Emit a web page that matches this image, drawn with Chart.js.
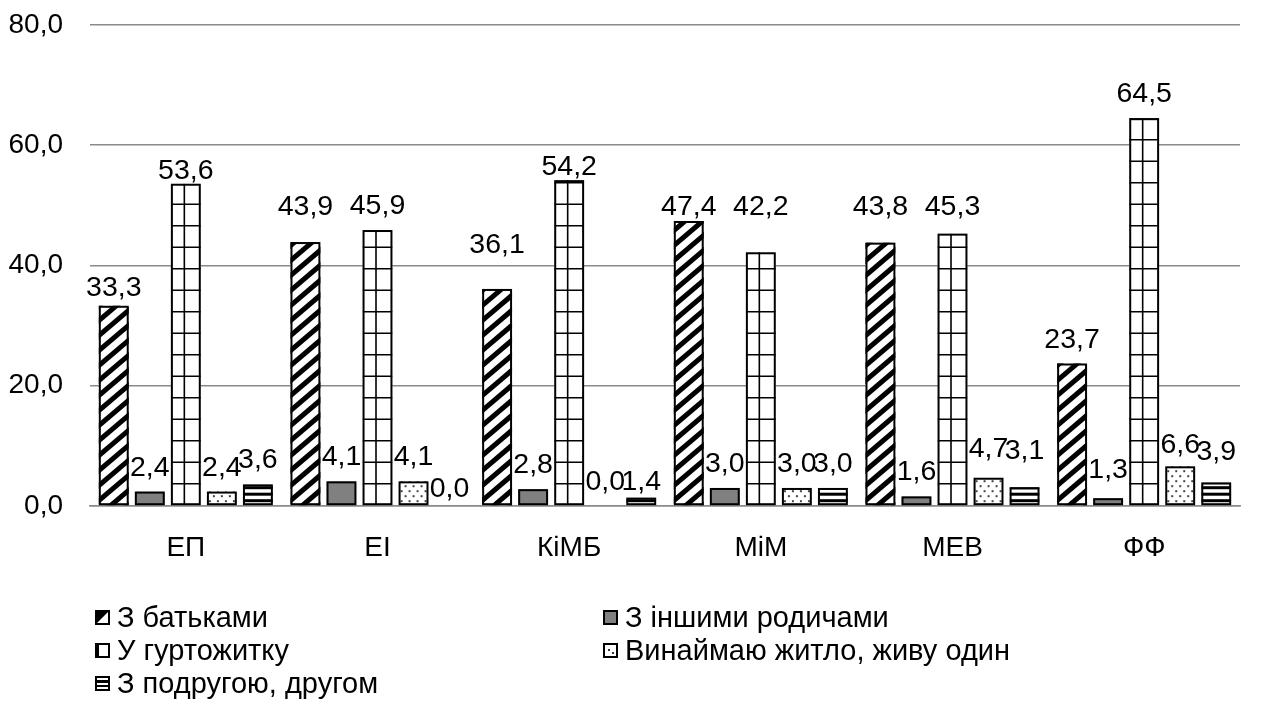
<!DOCTYPE html>
<html><head><meta charset="utf-8">
<script src="https://cdn.jsdelivr.net/npm/chart.js@4/dist/chart.umd.min.js"></script>
<style>
html,body{margin:0;padding:0;background:#fff;}
#wrap{position:relative;width:1272px;height:704px;overflow:hidden}
#c{display:block}
#legend{position:absolute;left:95px;top:601px;display:grid;grid-template-columns:508px auto;grid-auto-rows:33px;
  font-family:"Liberation Sans",Arial,sans-serif;font-size:29px;color:#000}
.item{display:flex;align-items:center;white-space:nowrap}
.item canvas{width:15px;height:15px;margin-right:7px;display:block}
</style></head>
<body>
<div id="wrap"><canvas id="c" width="1272" height="704"></canvas><div id="legend"></div></div>
<script>
const categories = ['ЕП','ЕІ','КіМБ','МіМ','МЕВ','ФФ'];
const seriesNames = ['З батьками','З іншими родичами','У гуртожитку','Винаймаю житло, живу один','З подругою, другом'];
const withParents   = [33.3, 43.9, 36.1, 47.4, 43.8, 23.7];
const otherRelatives= [2.4, 4.1, 2.8, 3.0, 1.6, 1.3];
const dormitory     = [53.6, 45.9, 54.2, 42.2, 45.3, 64.5];
const renting       = [2.4, 4.1, 0.0, 3.0, 4.7, 6.6];
const withFriend    = [3.6, 0.0, 1.4, 3.0, 3.1, 3.9];
const yTicks = [0, 20, 40, 60, 80];

const seriesValues = [withParents, otherRelatives, dormitory, renting, withFriend];
const patternKinds = ['diag', 'gray', 'grid', 'dots', 'hstripe'];
const FONT = '"Liberation Sans", Arial, sans-serif';
const FS = 28;
const LFS = 28.5;

// label placement tweaks (px, upward) mimicking the hand-placed labels of the source
const labelNudge = [
  [-6, 11, 20, -10, 12, 0],
  [0, 0, 0, 0, 0, 4],
  [-11, 0, -11, 21, 3, 0],
  [0, 0, 0, 0, 5, -3],
  [0, -7, -8, 0, 12, 7]
];

function fmt(v){ return v.toFixed(1).replace('.', ','); }

function drawHatch(ctx, kind, l, t, w, h, base) {
  ctx.save();
  ctx.beginPath(); ctx.rect(l, t, w, h); ctx.clip();
  ctx.fillStyle = kind === 'gray' ? '#808080' : '#fff';
  ctx.fillRect(l, t, w, h);
  ctx.strokeStyle = '#000'; ctx.fillStyle = '#000';
  if (kind === 'diag') {
    const p = 15, s = 0.85;
    ctx.lineWidth = 5;
    for (let y0 = base + w * s + p; y0 >= t - p; y0 -= p) {
      ctx.beginPath(); ctx.moveTo(l - 2, y0 + 2 * s); ctx.lineTo(l + w + 2, y0 - (w + 2) * s); ctx.stroke();
    }
  } else if (kind === 'grid') {
    ctx.lineWidth = 1.6;
    const vx = l + w * 0.45;
    ctx.beginPath(); ctx.moveTo(vx, t); ctx.lineTo(vx, t + h); ctx.stroke();
    for (let y = base - 21.5; y > t; y -= 21.5) {
      ctx.beginPath(); ctx.moveTo(l, y); ctx.lineTo(l + w, y); ctx.stroke();
    }
  } else if (kind === 'dots') {
    ctx.fillStyle = '#444';
    let row = 0;
    for (let y = base - 4; y > t - 4; y -= 5, row++) {
      for (let x = l + 3 + (row % 2) * 4; x < l + w; x += 8) {
        ctx.fillRect(x - 1, y - 1, 2, 2);
      }
    }
  } else if (kind === 'hstripe') {
    for (let y = base - 3; y > t - 6; y -= 6.5) {
      ctx.fillRect(l, y - 3, w, 3);
    }
  }
  ctx.restore();
  ctx.save();
  ctx.strokeStyle = '#000'; ctx.lineWidth = 2;
  ctx.strokeRect(l + 1, t + 1, w - 2, h - 2);
  ctx.restore();
}

const hatchPlugin = {
  id: 'hatch',
  afterDatasetsDraw(chart) {
    const ctx = chart.ctx;
    chart.data.datasets.forEach((ds, di) => {
      const meta = chart.getDatasetMeta(di);
      meta.data.forEach((el) => {
        const p = el.getProps(['x', 'y', 'base', 'width'], true);
        const h = p.base - p.y;
        if (h < 0.5) return;
        drawHatch(ctx, patternKinds[di], p.x - p.width / 2, p.y, p.width, h, p.base);
      });
    });
  }
};

const labelPlugin = {
  id: 'vlabels',
  afterDatasetsDraw(chart) {
    const ctx = chart.ctx;
    ctx.save();
    ctx.font = LFS + 'px ' + FONT;
    ctx.fillStyle = '#000';
    ctx.textAlign = 'center';
    ctx.textBaseline = 'alphabetic';
    chart.data.datasets.forEach((ds, di) => {
      const meta = chart.getDatasetMeta(di);
      meta.data.forEach((el, i) => {
        const p = el.getProps(['x', 'y'], true);
        ctx.fillText(fmt(ds.data[i]), p.x, p.y - 16 - labelNudge[di][i]);
      });
    });
    ctx.restore();
  }
};

const datasets = seriesNames.map((name, i) => ({
  label: name,
  data: seriesValues[i],
  backgroundColor: 'rgba(0,0,0,0)',
  borderWidth: 0,
  categoryPercentage: 0.94,
  barPercentage: 0.83
}));

new Chart(document.getElementById('c'), {
  type: 'bar',
  data: { labels: categories, datasets },
  options: {
    responsive: false,
    animation: false,
    devicePixelRatio: 1,
    layout: { padding: { top: 25, right: 32, left: 0, bottom: 140 } },
    plugins: { legend: { display: false }, tooltip: { enabled: false } },
    scales: {
      x: {
        grid: { display: false, drawTicks: false },
        border: { display: true, color: '#8a8a8a', width: 1.6 },
        ticks: { font: { family: FONT, size: FS }, color: '#000', padding: 25 },
        afterFit(s) { s.height = 58; }
      },
      y: {
        min: 0, max: 80,
        afterBuildTicks(s) { s.ticks = yTicks.map(v => ({ value: v })); },
        grid: { color: '#8a8a8a', lineWidth: 1.6, drawTicks: false },
        border: { display: false },
        ticks: { font: { family: FONT, size: FS }, color: '#000', padding: 27, callback: v => fmt(v) },
        afterFit(s) { s.width = 90; s.paddingTop = 0; s.paddingBottom = 0; }
      }
    }
  },
  plugins: [hatchPlugin, labelPlugin]
});

// HTML legend, two columns as in the source figure
const legend = document.getElementById('legend');
seriesNames.forEach((name, i) => {
  const item = document.createElement('div');
  item.className = 'item';
  const cv = document.createElement('canvas');
  cv.width = 15; cv.height = 15;
  const g = cv.getContext('2d');
  const k = patternKinds[i];
  g.fillStyle = k === 'gray' ? '#808080' : '#fff';
  g.fillRect(0, 0, 15, 15);
  g.fillStyle = '#000';
  if (k === 'diag') { g.beginPath(); g.moveTo(0, 0); g.lineTo(15, 0); g.lineTo(0, 15); g.closePath(); g.fill(); }
  if (k === 'grid') { g.fillRect(0, 0, 4, 15); }
  if (k === 'dots') { g.fillStyle = '#333'; g.fillRect(5, 6, 2, 2); g.fillRect(9, 9, 2, 2); }
  if (k === 'hstripe') { g.fillRect(0, 4, 15, 3); g.fillRect(0, 9, 15, 2); }
  g.strokeStyle = '#000'; g.lineWidth = 2; g.strokeRect(1, 1, 13, 13);
  const sp = document.createElement('span');
  sp.textContent = name;
  item.appendChild(cv); item.appendChild(sp);
  legend.appendChild(item);
});
</script>
</body></html>
